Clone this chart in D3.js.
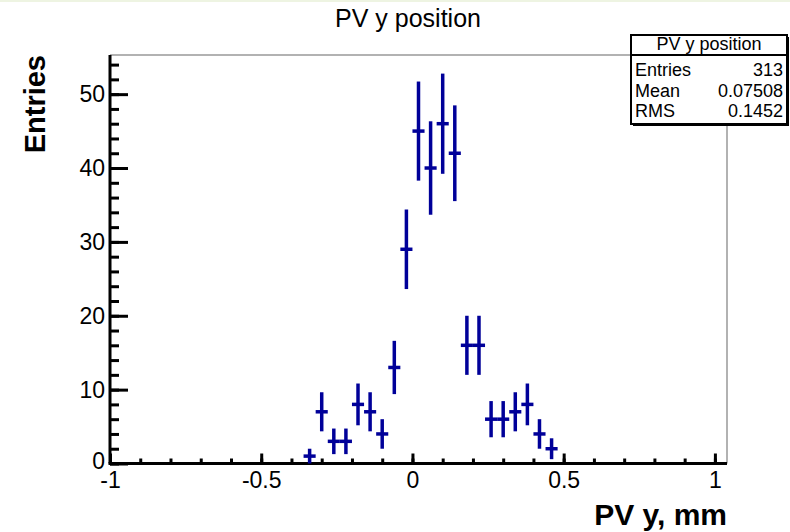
<!DOCTYPE html>
<meta charset="utf-8">
<script src="https://d3js.org/d3.v7.min.js"></script>
<style>
  body { margin: 0; background: #fff; }
  text { font-family: "Liberation Sans", Arial, Helvetica, sans-serif; }
</style>
<div id="hist"></div>
<script>

// bin centres (width 0.04) and counts
var binCenters = [-0.34, -0.30, -0.26, -0.22, -0.18, -0.14, -0.10, -0.06, -0.02,
                  0.02, 0.06, 0.10, 0.14, 0.18, 0.22, 0.26, 0.30, 0.34, 0.38, 0.42, 0.46];
var counts     = [1, 7, 3, 3, 8, 7, 4, 13, 29,
                  45, 40, 46, 42, 16, 16, 6, 6, 7, 8, 4, 2];
var binWidth = 0.04;
var xMajor = [-1, -0.5, 0, 0.5, 1];
var yMajor = [0, 10, 20, 30, 40, 50];
var statLabels = ["Entries", "Mean", "RMS"];
var statValues = ["313", "0.07508", "0.1452"];

var data = binCenters.map(function(c, i) { return {x: c, n: counts[i]}; });

var W = 790, H = 532;
var frame = {left: 110, right: 727, top: 55, bottom: 463.5};
var col = "#000099";

var svg = d3.select("#hist").append("svg")
    .attr("width", W)
    .attr("height", H);

// faint strip along the top edge
svg.append("rect").attr("x", 0).attr("y", 0).attr("width", W).attr("height", 2)
    .attr("fill", "#eef4e2");

var x = d3.scaleLinear().domain([-1, 1.04]).range([frame.left, frame.right]);
var y = d3.scaleLinear().domain([0, 55.3]).range([frame.bottom, frame.top]);

// frame (top + right in grey)
svg.append("path")
    .attr("d", "M" + frame.left + "," + frame.top + "H" + frame.right + "V" + frame.bottom)
    .attr("fill", "none").attr("stroke", "#999").attr("stroke-width", 1.5);

// y axis: minor ticks then major ticks with labels
var yMinor = d3.range(0, 55, 2);
svg.append("g")
    .attr("transform", "translate(" + frame.left + ",0)")
    .call(d3.axisLeft(y).tickValues(yMinor).tickSize(-9).tickSizeOuter(0).tickFormat(""))
    .call(function(g) { g.select(".domain").remove(); })
    .selectAll("line").attr("stroke-width", 3);

var yAxis = svg.append("g")
    .attr("transform", "translate(" + frame.left + ",0)")
    .call(d3.axisLeft(y).tickValues(yMajor).tickSize(-18).tickSizeOuter(0).tickPadding(5));
yAxis.select(".domain").attr("d", "M0," + frame.bottom + "V" + frame.top).attr("stroke-width", 3);
yAxis.selectAll("line").attr("stroke-width", 3);
yAxis.selectAll("text").attr("font-size", 23).attr("font-family", "Liberation Sans, Arial, sans-serif")
    .attr("fill", "#000");
// the "0" sits a touch higher so it clears the "-1" below
yAxis.selectAll("text").filter(function(d) { return d === 0; }).attr("dy", "0.2em");

// x axis
var xMinor = d3.range(-1, 1.001, 0.1);
svg.append("g")
    .attr("transform", "translate(0," + frame.bottom + ")")
    .call(d3.axisBottom(x).tickValues(xMinor).tickSize(-5).tickSizeOuter(0).tickFormat(""))
    .call(function(g) { g.select(".domain").remove(); })
    .selectAll("line").attr("stroke-width", 3);

var xAxis = svg.append("g")
    .attr("transform", "translate(0," + frame.bottom + ")")
    .call(d3.axisBottom(x).tickValues(xMajor).tickSize(-10).tickSizeOuter(0).tickPadding(8)
        .tickFormat(function(d) { return d3.format("")(d).replace("\u2212", "-"); }));
xAxis.select(".domain").attr("d", "M" + (frame.left - 1.5) + ",0H" + frame.right).attr("stroke-width", 3);
xAxis.selectAll("line").attr("stroke-width", 3);
xAxis.selectAll("text").attr("font-size", 23).attr("font-family", "Liberation Sans, Arial, sans-serif")
    .attr("fill", "#000");

// error bars: horizontal = bin width, vertical = sqrt(N)
var pts = svg.append("g").attr("stroke", col).attr("stroke-width", 3.5).attr("fill", "none");
pts.selectAll(".v").data(data).enter().append("line")
    .attr("x1", function(d) { return x(d.x); })
    .attr("x2", function(d) { return x(d.x); })
    .attr("y1", function(d) { return y(d.n - Math.sqrt(d.n)); })
    .attr("y2", function(d) { return y(d.n + Math.sqrt(d.n)); });
pts.selectAll(".h").data(data).enter().append("line")
    .attr("x1", function(d) { return x(d.x - binWidth / 2); })
    .attr("x2", function(d) { return x(d.x + binWidth / 2); })
    .attr("y1", function(d) { return y(d.n); })
    .attr("y2", function(d) { return y(d.n); });

// titles
svg.append("text").attr("x", 408).attr("y", 27).attr("text-anchor", "middle")
    .attr("font-size", 25).text("PV y position");

svg.append("text").attr("transform", "translate(45,55) rotate(-90)")
    .attr("text-anchor", "end").attr("font-size", 29).attr("font-weight", "bold")
    .text("Entries");

svg.append("text").attr("x", frame.right).attr("y", 525).attr("text-anchor", "end")
    .attr("font-size", 30).attr("font-weight", "bold").text("PV y, mm");

// stats box
var box = {x: 631, y: 35, w: 156, h: 89, head: 20};
var sb = svg.append("g");
sb.append("rect").attr("x", box.x + 2).attr("y", box.y + 2).attr("width", box.w).attr("height", box.h)
    .attr("fill", "#000");
sb.append("rect").attr("x", box.x).attr("y", box.y).attr("width", box.w).attr("height", box.h)
    .attr("fill", "#fff").attr("stroke", "#000").attr("stroke-width", 2);
sb.append("line").attr("x1", box.x).attr("x2", box.x + box.w)
    .attr("y1", box.y + box.head).attr("y2", box.y + box.head)
    .attr("stroke", "#000").attr("stroke-width", 2);
sb.append("text").attr("x", box.x + box.w / 2).attr("y", box.y + 15).attr("text-anchor", "middle")
    .attr("font-size", 18).text("PV y position");
sb.selectAll(".lab").data(statLabels).enter().append("text")
    .attr("x", box.x + 4).attr("y", function(d, i) { return 76 + i * 20.5; })
    .attr("font-size", 18).text(function(d) { return d; });
sb.selectAll(".val").data(statValues).enter().append("text")
    .attr("x", box.x + box.w - 4).attr("y", function(d, i) { return 76 + i * 20.5; })
    .attr("text-anchor", "end").attr("font-size", 18).text(function(d) { return d; });

</script>
